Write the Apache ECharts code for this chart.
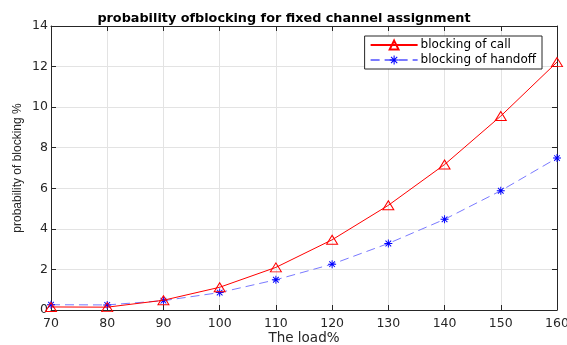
<!DOCTYPE html>
<html>
<head>
<meta charset="utf-8">
<script src="https://cdn.jsdelivr.net/npm/echarts@6/dist/echarts.min.js"></script>
<style>
  html, body { margin: 0; padding: 0; background: #fff; }
  #chart { width: 567px; height: 345px; }
</style>
</head>
<body>
<div id="chart"></div>
<script>
// Offered load (%)
var loads = [70, 80, 90, 100, 110, 120, 130, 140, 150, 160];
// Blocking probability (%) for new calls
var callBlocking = [0.15, 0.14, 0.48, 1.12, 2.1, 3.46, 5.16, 7.17, 9.56, 12.22];
// Blocking probability (%) for handoff requests
var handoffBlocking = [0.26, 0.25, 0.46, 0.86, 1.49, 2.26, 3.28, 4.47, 5.88, 7.49];
var yTicks = { min: 0, max: 14, step: 2 };
var xTicks = { min: 70, max: 160, step: 10 };

function pairs(xs, ys) {
  return xs.map(function (x, i) { return [x, ys[i]]; });
}

// eight-armed asterisk marker
var asterisk = 'path://M-0.6,-5L0.6,-5L0.6,5L-0.6,5Z' +
  'M-5,-0.6L5,-0.6L5,0.6L-5,0.6Z' +
  'M-3.96,-3.11L-3.11,-3.96L3.96,3.11L3.11,3.96Z' +
  'M3.11,-3.96L3.96,-3.11L-3.11,3.96L-3.96,3.11Z';

var wideFont = 'DejaVu Sans, Verdana, sans-serif';
var axisColor = '#262626';

function frameAxis(extra) {
  return Object.assign({
    axisLine: { show: true, onZero: false, lineStyle: { color: axisColor, width: 1 } },
    axisTick: { show: true, inside: true, length: 5, lineStyle: { color: axisColor } }
  }, extra);
}

var chart = echarts.init(document.getElementById('chart'), null, { renderer: 'canvas' });
chart.setOption({
  animation: false,
  backgroundColor: '#ffffff',
  title: {
    text: 'probability ofblocking for fixed channel assignment',
    left: 279, top: 7, textAlign: 'center',
    textStyle: { fontFamily: wideFont, fontWeight: 'bold', fontSize: 12.8, color: '#000' }
  },
  grid: { left: 51, right: 10, top: 26, bottom: 35, outerBoundsMode: 'none', containLabel: false },
  legend: {
    right: 25, top: 36,
    orient: 'vertical',
    backgroundColor: '#fff',
    borderColor: axisColor, borderWidth: 1, borderRadius: 0,
    padding: [3, 6, 3, 5],
    itemGap: 3,
    itemWidth: 47, itemHeight: 11,
    textStyle: { fontFamily: wideFont, fontSize: 12, color: '#000', padding: [0, 0, 0, -2] },
    data: ['blocking of call', 'blocking of handoff']
  },
  xAxis: [frameAxis({
    type: 'value', min: xTicks.min, max: xTicks.max, interval: xTicks.step,
    name: 'The load%', nameLocation: 'middle', nameGap: 21, nameMoveOverlap: false,
    nameTextStyle: { fontFamily: wideFont, fontSize: 13.5, color: axisColor, verticalAlign: 'top' },
    axisLabel: { fontFamily: wideFont, fontSize: 12.5, color: axisColor, margin: 7 },
    splitLine: { show: true, lineStyle: { color: '#e3e3e3', width: 1 } }
  }), frameAxis({
    type: 'value', position: 'top', min: xTicks.min, max: xTicks.max, interval: xTicks.step,
    axisLabel: { show: false }, splitLine: { show: false }
  })],
  yAxis: [frameAxis({
    type: 'value', min: yTicks.min, max: yTicks.max, interval: yTicks.step,
    name: 'probability of blocking %', nameLocation: 'middle', nameGap: 27, nameMoveOverlap: false,
    nameTextStyle: { fontFamily: 'Liberation Sans, Arial, sans-serif', fontSize: 12, color: axisColor },
    axisLabel: { fontFamily: wideFont, fontSize: 12.5, color: axisColor, margin: 3 },
    splitLine: { show: true, lineStyle: { color: '#e3e3e3', width: 1 } }
  }), frameAxis({
    type: 'value', position: 'right', min: yTicks.min, max: yTicks.max, interval: yTicks.step,
    axisLabel: { show: false }, splitLine: { show: false }
  })],
  series: [{
    name: 'blocking of call',
    type: 'line',
    data: pairs(loads, callBlocking),
    symbol: 'triangle', symbolSize: [11, 9],
    showAllSymbol: true,
    lineStyle: { color: '#ff0000', width: 1 },
    itemStyle: { color: 'rgba(255,255,255,0)', borderColor: '#ff0000', borderWidth: 1 },
    z: 3
  }, {
    name: 'blocking of handoff',
    type: 'line',
    data: pairs(loads, handoffBlocking),
    symbol: asterisk, symbolSize: 8,
    showAllSymbol: true,
    lineStyle: { color: '#7a7aff', width: 1, type: [9, 5] },
    itemStyle: { color: '#0000ff', borderWidth: 0 },
    z: 2
  }]
});
</script>
</body>
</html>
